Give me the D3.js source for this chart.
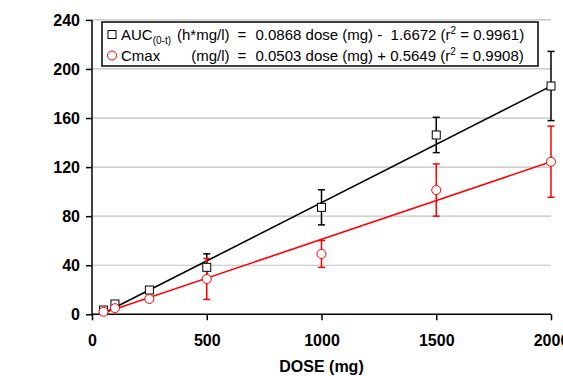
<!DOCTYPE html>
<html>
<head>
<meta charset="utf-8">
<script src="https://cdn.jsdelivr.net/npm/d3@7"></script>
<style>
body { margin: 0; background: #fff; }
svg { display: block; font-family: "Liberation Sans", Arial, sans-serif; }
</style>
</head>
<body>
<svg id="chart" width="563" height="376"></svg>
<script>
// data
var doses = [50, 100, 250, 500, 1000, 1500, 2000];
var aucMean = [3.5, 8.4, 19.8, 38.3, 87.2, 146.2, 186.1];
var aucSd = [1, 1.5, 2, 11, 14.3, 14.4, 28.2];
var cmaxMean = [2, 5, 12.5, 28.8, 49.2, 101.3, 124.4];
var cmaxSd = [0.5, 1, 1.5, 16.7, 11, 21.3, 29];
// fitted lines as drawn (start, end)
var aucFit = [[50, 0.8], [2000, 186]];
var cmaxFit = [[50, 1], [2000, 124.4]];
var yTicks = [0, 40, 80, 120, 160, 200, 240];
var xTicks = [0, 500, 1000, 1500, 2000];

var svg = d3.select("#chart");
var x = d3.scaleLinear().domain([0, 2000]).range([92, 551]);
var y = d3.scaleLinear().domain([0, 240]).range([314.3, 19.9]);

// gridlines
svg.append("g").selectAll("line")
    .data(yTicks.filter(function (d) { return d > 0; }))
    .enter().append("line")
    .attr("x1", x(0)).attr("x2", x(2000))
    .attr("y1", function (d) { return y(d); })
    .attr("y2", function (d) { return y(d); })
    .attr("stroke", "#c0c0c0").attr("stroke-width", 1.2);

// axes
var yAxis = svg.append("g").attr("transform", "translate(" + x(0) + ",0)")
    .call(d3.axisLeft(y).tickValues(yTicks).tickFormat(d3.format("d")).tickSize(6).tickPadding(6));
var xAxis = svg.append("g").attr("transform", "translate(0," + y(0) + ")")
    .call(d3.axisBottom(x).tickValues(xTicks).tickFormat(d3.format("d")).tickSize(6).tickPadding(14));
[yAxis, xAxis].forEach(function (a) {
    a.select(".domain").attr("stroke", "#000").attr("stroke-width", 1.5);
    a.selectAll(".tick line").attr("stroke", "#000").attr("stroke-width", 1.5);
    a.selectAll(".tick text").attr("fill", "#000")
        .style("font-size", "16px").style("font-weight", "bold")
        .style("font-family", "'Liberation Sans', Arial, sans-serif");
});
yAxis.selectAll(".domain").attr("d", "M0," + y(0) + "V" + y(240));
xAxis.selectAll(".domain").attr("d", "M" + x(0) + ",0H" + x(2000));

svg.append("text")
    .attr("x", (x(0) + x(2000)) / 2).attr("y", 372)
    .attr("text-anchor", "middle")
    .style("font-size", "16px").style("font-weight", "bold")
    .text("DOSE (mg)");

var line = d3.line()
    .x(function (d) { return x(d[0]); })
    .y(function (d) { return y(d[1]); });

svg.append("path").attr("d", line(aucFit))
    .attr("stroke", "#000").attr("stroke-width", 1.6).attr("fill", "none");
svg.append("path").attr("d", line(cmaxFit))
    .attr("stroke", "#ff0000").attr("stroke-width", 1.6).attr("fill", "none");

function errorBars(means, sds, color) {
    var g = svg.append("g").attr("stroke", color).attr("stroke-width", 1.5);
    doses.forEach(function (d, i) {
        var cx = x(d), lo = y(means[i] - sds[i]), hi = y(means[i] + sds[i]);
        g.append("line").attr("x1", cx).attr("x2", cx).attr("y1", lo).attr("y2", hi);
        g.append("line").attr("x1", cx - 3.5).attr("x2", cx + 3.5).attr("y1", lo).attr("y2", lo);
        g.append("line").attr("x1", cx - 3.5).attr("x2", cx + 3.5).attr("y1", hi).attr("y2", hi);
    });
}
errorBars(aucMean, aucSd, "#000");
errorBars(cmaxMean, cmaxSd, "#ff0000");

// markers
svg.append("g").selectAll("rect")
    .data(doses)
    .enter().append("rect")
    .attr("x", function (d) { return x(d) - 4; })
    .attr("y", function (d, i) { return y(aucMean[i]) - 4; })
    .attr("width", 8).attr("height", 8)
    .attr("fill", "#fff").attr("stroke", "#000").attr("stroke-width", 1);
svg.append("g").selectAll("circle")
    .data(doses)
    .enter().append("circle")
    .attr("cx", function (d) { return x(d); })
    .attr("cy", function (d, i) { return y(cmaxMean[i]); })
    .attr("r", 4.5)
    .attr("fill", "#fff").attr("stroke", "#ff0000").attr("stroke-width", 1);

// legend
var lg = svg.append("g").style("font-size", "15px");
lg.append("rect").attr("x", 102).attr("y", 22).attr("width", 436).attr("height", 44)
    .attr("fill", "#fff").attr("stroke", "#000").attr("stroke-width", 1.5);
lg.append("rect").attr("x", 108).attr("y", 30.5).attr("width", 8).attr("height", 8)
    .attr("fill", "#fff").attr("stroke", "#000");
lg.append("circle").attr("cx", 112).attr("cy", 55.5).attr("r", 4.5)
    .attr("fill", "#fff").attr("stroke", "#ff0000");

var r1 = 40, r2 = 61;
var t1 = lg.append("text").attr("x", 121).attr("y", r1);
t1.append("tspan").text("AUC");
t1.append("tspan").attr("dy", 4).style("font-size", "10px").text("(0-t)");
lg.append("text").attr("x", 229.5).attr("y", r1).attr("text-anchor", "end").text("(h*mg/l)");
lg.append("text").attr("x", 121).attr("y", r2).text("Cmax");
lg.append("text").attr("x", 229.5).attr("y", r2).attr("text-anchor", "end").text("(mg/l)");
lg.append("text").attr("x", 242).attr("y", r1).attr("text-anchor", "middle").text("=");
lg.append("text").attr("x", 242).attr("y", r2).attr("text-anchor", "middle").text("=");

var e1 = lg.append("text").attr("x", 255.5).attr("y", r1).attr("xml:space", "preserve");
e1.append("tspan").text("0.0868 dose (mg) -  1.6672 (r");
e1.append("tspan").attr("dy", -6).style("font-size", "10px").text("2");
e1.append("tspan").attr("dy", 6).text(" = 0.9961)");
var e2 = lg.append("text").attr("x", 255.5).attr("y", r2).attr("xml:space", "preserve");
e2.append("tspan").text("0.0503 dose (mg) + 0.5649 (r");
e2.append("tspan").attr("dy", -6).style("font-size", "10px").text("2");
e2.append("tspan").attr("dy", 6).text(" = 0.9908)");
</script>
</body>
</html>
